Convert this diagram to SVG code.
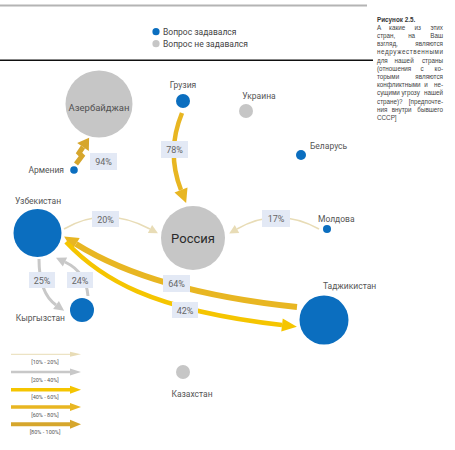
<svg xmlns="http://www.w3.org/2000/svg" width="455" height="450" viewBox="0 0 455 450">
<style>
.lbl{font-family:Roboto,"Liberation Sans",sans-serif;font-size:8.5px;fill:#555}
.pct{font-family:Roboto,"Liberation Sans",sans-serif;font-size:9px;fill:#666;text-anchor:middle}
.box{fill:#e3e9f5}
.blue{fill:#0b6ebf}
.grey{fill:#c6c6c6}
.cap{font-family:"Liberation Sans",Arial,sans-serif;font-size:6.3px;fill:#444}
.m{text-anchor:middle}
.e{text-anchor:end}
.lg{font-family:Roboto,"Liberation Sans",sans-serif;font-size:5.5px;fill:#555;text-anchor:middle}
.beige{stroke:#e8dcb6;fill:none}
.gray{stroke:#c8c8c8;fill:none}
.yel{stroke:#f5c500;fill:none}
.gold{stroke:#e8b622;fill:none}
.dgold{stroke:#d6a62c;fill:none}
</style>
<defs>
<marker id="m-beige" markerUnits="userSpaceOnUse" markerWidth="12" markerHeight="12" refX="0" refY="4.5" orient="auto" overflow="visible"><path d="M0,0 L9,4.5 L0,9 z" fill="#e8dcb6"/></marker>
<marker id="m-gray" markerUnits="userSpaceOnUse" markerWidth="12" markerHeight="12" refX="0" refY="5" orient="auto" overflow="visible"><path d="M0,0 L10,5 L0,10 z" fill="#c8c8c8"/></marker>
<marker id="m-yel" markerUnits="userSpaceOnUse" markerWidth="16" markerHeight="16" refX="0" refY="6.5" orient="auto" overflow="visible"><path d="M0,0 L15,6.5 L0,13 z" fill="#f5c500"/></marker>
<marker id="m-gold" markerUnits="userSpaceOnUse" markerWidth="16" markerHeight="16" refX="0" refY="7" orient="auto" overflow="visible"><path d="M0,0 L14,7 L0,14 z" fill="#e8b622"/></marker>
<marker id="m-dgold" markerUnits="userSpaceOnUse" markerWidth="16" markerHeight="16" refX="0" refY="7" orient="auto" overflow="visible"><path d="M0,0 L11,7 L0,14 z" fill="#d6a62c"/></marker>
<marker id="l-beige" markerUnits="userSpaceOnUse" markerWidth="12" markerHeight="12" refX="0" refY="2.5" orient="auto" overflow="visible"><path d="M0,0 L11,2.5 L0,5 z" fill="#e8dcb6"/></marker>
<marker id="l-gray" markerUnits="userSpaceOnUse" markerWidth="12" markerHeight="12" refX="0" refY="3.5" orient="auto" overflow="visible"><path d="M0,0 L11,3.5 L0,7 z" fill="#c8c8c8"/></marker>
<marker id="l-yel" markerUnits="userSpaceOnUse" markerWidth="12" markerHeight="12" refX="0" refY="4" orient="auto" overflow="visible"><path d="M0,0 L11,4 L0,8 z" fill="#f5c500"/></marker>
<marker id="l-gold" markerUnits="userSpaceOnUse" markerWidth="12" markerHeight="12" refX="0" refY="4" orient="auto" overflow="visible"><path d="M0,0 L11,4 L0,8 z" fill="#e8b622"/></marker>
<marker id="l-dgold" markerUnits="userSpaceOnUse" markerWidth="12" markerHeight="12" refX="0" refY="4.5" orient="auto" overflow="visible"><path d="M0,0 L11,4.5 L0,9 z" fill="#d6a62c"/></marker>
</defs>
<rect width="455" height="450" fill="#fff"/>
<line x1="0" y1="5.5" x2="367" y2="5.5" stroke="#b4b4b4" stroke-width="2"/>
<line x1="0" y1="60.3" x2="373" y2="60.3" stroke="#111" stroke-width="1.5"/>
<g id="legend">
<circle cx="156" cy="31.7" r="3.6" class="blue"/>
<text x="163" y="34.8" style="font-family:Roboto,'Liberation Sans',sans-serif;font-size:8.5px;fill:#444">Вопрос задавался</text>
<circle cx="156" cy="43.7" r="3.6" class="grey"/>
<text x="163" y="46.8" style="font-family:Roboto,'Liberation Sans',sans-serif;font-size:8.5px;fill:#444">Вопрос не задавался</text>
</g>
<g id="caption" class="cap">
<text x="377" y="21.5" class="cap" style="font-weight:bold;fill:#333">Рисунок 2.5.</text>
<text y="29.7" class="cap"><tspan x="377">А</tspan> <tspan x="398" class="m">какие</tspan> <tspan x="418.5" class="m">из</tspan> <tspan x="443" class="e">этих</tspan></text>
<text y="37.9" class="cap"><tspan x="377">стран,</tspan> <tspan x="412.5" class="m">на</tspan> <tspan x="443" class="e">Ваш</tspan></text>
<text y="46.1" class="cap"><tspan x="377">взгляд,</tspan> <tspan x="443" class="e">являются</tspan></text>
<text x="377" y="54.3" class="cap" textLength="66" lengthAdjust="spacing">недружественными</text>
<text y="62.5" class="cap"><tspan x="377">для</tspan> <tspan x="405" class="m">нашей</tspan> <tspan x="443" class="e">страны</tspan></text>
<text y="70.7" class="cap"><tspan x="377">(отношения</tspan> <tspan x="423" class="m">с</tspan> <tspan x="443" class="e">ко-</tspan></text>
<text y="78.9" class="cap"><tspan x="377">торыми</tspan> <tspan x="443" class="e">являются</tspan></text>
<text y="87.1" class="cap"><tspan x="377">конфликтными</tspan> <tspan x="427" class="m">и</tspan> <tspan x="443" class="e">не-</tspan></text>
<text y="95.3" class="cap"><tspan x="377">сущими</tspan> <tspan x="411.5" class="m">угрозу</tspan> <tspan x="443" class="e">нашей</tspan></text>
<text y="103.5" class="cap"><tspan x="377">стране)?</tspan> <tspan x="443" class="e">[предпочте-</tspan></text>
<text y="111.7" class="cap"><tspan x="377">ния</tspan> <tspan x="402.5" class="m">внутри</tspan> <tspan x="443" class="e">бывшего</tspan></text>
<text x="377" y="119.9" class="cap">СССР]</text>
</g>
<g id="connectors">
<path d="M76,164 L82,156 L79,153 L83,147" class="dgold" stroke-width="5" stroke-linejoin="miter" marker-end="url(#m-dgold)"/>
<path d="M182,113 Q166,152 181,190" class="gold" stroke-width="4.5" marker-end="url(#m-gold)"/>
<path d="M64,229 Q105,205 150,229" class="beige" stroke-width="1.6" marker-end="url(#m-beige)"/>
<path d="M319,229 Q277,206 237,229" class="beige" stroke-width="1.6" marker-end="url(#m-beige)"/>
<path d="M297,307 C230,300 140,284 76,244" class="gold" stroke-width="6" marker-end="url(#m-gold)"/>
<path d="M66,242 C100,278 150,310 282,325" class="yel" stroke-width="4.5" marker-end="url(#m-yel)"/>
<path d="M39,259 Q39,293 56,305" class="gray" stroke-width="3" marker-end="url(#m-gray)"/>
<path d="M88,296 Q86,272 65,262" class="gray" stroke-width="3" marker-end="url(#m-gray)"/>
</g>
<g id="labels">
<rect x="90" y="153" width="27" height="17" class="box"/><text x="103.5" y="165" class="pct">94%</text>
<rect x="161" y="141" width="27" height="17" class="box"/><text x="174.5" y="153" class="pct">78%</text>
<rect x="92" y="211" width="27" height="16" class="box"/><text x="105.5" y="222.5" class="pct">20%</text>
<rect x="262" y="210" width="28" height="17" class="box"/><text x="276" y="222" class="pct">17%</text>
<rect x="163" y="275" width="27" height="17" class="box"/><text x="176.5" y="287" class="pct">64%</text>
<rect x="172" y="302" width="26" height="16" class="box"/><text x="185" y="313.5" class="pct">42%</text>
<rect x="29" y="272" width="26" height="16" class="box"/><text x="42" y="283.5" class="pct">25%</text>
<rect x="67" y="272" width="26" height="16" class="box"/><text x="80" y="283.5" class="pct">24%</text>
</g>
<g id="azerbaijan"><circle cx="99" cy="104" r="33.5" class="grey"/><text x="99" y="111" class="lbl" style="font-size:9.5px;text-anchor:middle;fill:#505050">Азербайджан</text></g>
<g id="armenia"><circle cx="74" cy="170" r="3.8" class="blue"/><text x="64" y="173" class="lbl" style="text-anchor:end">Армения</text></g>
<g id="georgia"><circle cx="183" cy="101" r="7" class="blue"/><text x="183" y="88" class="lbl" style="text-anchor:middle">Грузия</text></g>
<g id="ukraine"><circle cx="246" cy="111" r="7" class="grey"/><text x="259" y="99" class="lbl" style="text-anchor:middle">Украина</text></g>
<g id="belarus"><circle cx="301" cy="155" r="5" class="blue"/><text x="310" y="149" class="lbl">Беларусь</text></g>
<g id="russia"><circle cx="193" cy="238" r="32" class="grey"/><text x="193" y="243" style="font-family:Roboto,'Liberation Sans',sans-serif;font-size:13px;fill:#2a2a2a;text-anchor:middle">Россия</text></g>
<g id="moldova"><circle cx="327" cy="229" r="4" class="blue"/><text x="318" y="222" class="lbl">Молдова</text></g>
<g id="uzbekistan"><circle cx="37.5" cy="233" r="24" class="blue"/><text x="38" y="204" class="lbl" style="text-anchor:middle">Узбекистан</text></g>
<g id="kyrgyzstan"><circle cx="82" cy="310" r="12" class="blue"/><text x="65" y="321" class="lbl" style="text-anchor:end">Кыргызстан</text></g>
<g id="tajikistan"><circle cx="324" cy="320" r="24.5" class="blue"/><text x="323" y="289" class="lbl">Таджикистан</text></g>
<g id="kazakhstan"><circle cx="183" cy="372" r="7" class="grey"/><text x="192" y="397" class="lbl" style="text-anchor:middle">Казахстан</text></g>
<g id="scale">
<line x1="11" y1="354.3" x2="70" y2="354.3" class="beige" stroke-width="1" marker-end="url(#l-beige)"/>
<text x="45" y="364" class="lg">[10% - 20%]</text>
<line x1="11" y1="372" x2="70" y2="372" class="gray" stroke-width="2.5" marker-end="url(#l-gray)"/>
<text x="45" y="381.5" class="lg">[20% - 40%]</text>
<line x1="11" y1="389.7" x2="70" y2="389.7" class="yel" stroke-width="3.5" marker-end="url(#l-yel)"/>
<text x="45" y="399" class="lg">[40% - 60%]</text>
<line x1="11" y1="407" x2="70" y2="407" class="gold" stroke-width="3.5" marker-end="url(#l-gold)"/>
<text x="45" y="416.5" class="lg">[60% - 80%]</text>
<line x1="11" y1="424.3" x2="70" y2="424.3" class="dgold" stroke-width="4" marker-end="url(#l-dgold)"/>
<text x="45" y="433.5" class="lg">[80% - 100%]</text>
</g>
</svg>
